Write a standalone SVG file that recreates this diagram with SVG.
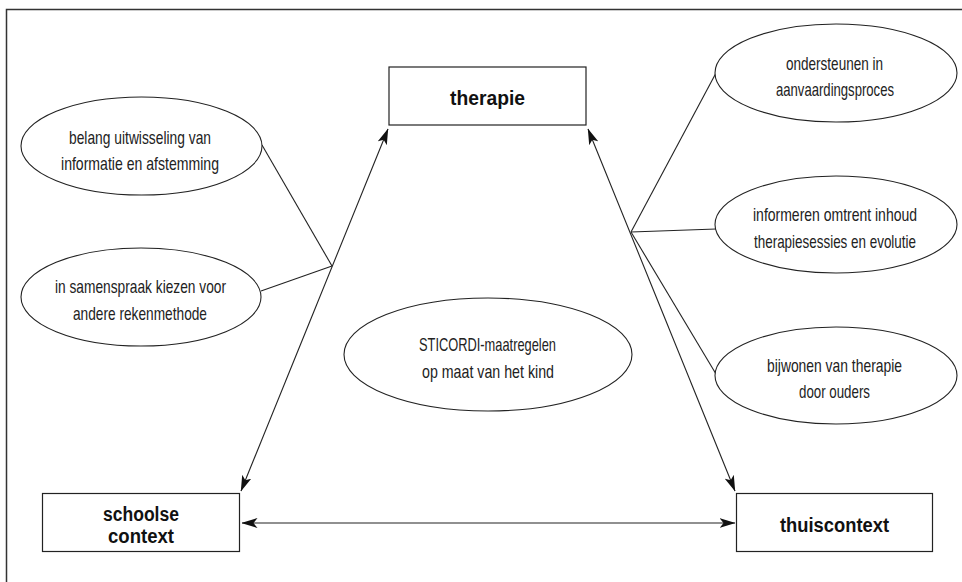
<svg xmlns="http://www.w3.org/2000/svg" width="962" height="582" viewBox="0 0 962 582">
<style>
.frame{fill:none;stroke:#333;stroke-width:1.5}
.box{fill:#fff;stroke:#222;stroke-width:1.2}
.ell{fill:#fff;stroke:#222;stroke-width:1.1}
.lbl{font-family:"Liberation Sans",Arial,sans-serif;font-size:19px;fill:#222;text-anchor:middle}
.bold{font-family:"Liberation Sans",Arial,sans-serif;font-size:19.5px;font-weight:bold;fill:#111;text-anchor:middle}
.ln{stroke:#222;stroke-width:1.1;fill:none}
.arr{marker-start:url(#ah);marker-end:url(#ah)}
</style>
<defs>
<marker id="ah" viewBox="0 0 16 10" refX="15.5" refY="5" markerWidth="16" markerHeight="10" markerUnits="userSpaceOnUse" orient="auto-start-reverse">
<path d="M0,0 L16,5 L0,10 L4,5 Z" fill="#111"/>
</marker>
</defs>
<rect width="962" height="582" fill="#fff"/>
<path class="frame" d="M962,9.5 H6.5 V582"/>

<g id="connectors">
<line class="ln arr" x1="388" y1="129" x2="241" y2="491"/>
<line class="ln arr" x1="588" y1="129" x2="735" y2="491"/>
<line class="ln arr" x1="242" y1="523" x2="735" y2="523"/>
<line class="ln" x1="262" y1="145" x2="332" y2="266"/>
<line class="ln" x1="261" y1="291" x2="332" y2="266"/>
<line class="ln" x1="631" y1="232" x2="716" y2="73"/>
<line class="ln" x1="631" y1="232" x2="716" y2="229"/>
<line class="ln" x1="631" y1="232" x2="716" y2="374"/>
</g>

<g id="therapie">
<rect class="box" x="389" y="67" width="197" height="58"/>
<text class="bold" x="487.5" y="105" textLength="75" lengthAdjust="spacingAndGlyphs">therapie</text>
</g>

<g id="schoolse-context">
<rect class="box" x="42.5" y="493.5" width="197" height="58"/>
<text class="bold" x="141" y="521" textLength="76" lengthAdjust="spacingAndGlyphs">schoolse</text>
<text class="bold" x="141" y="543" textLength="66" lengthAdjust="spacingAndGlyphs">context</text>
</g>

<g id="thuiscontext">
<rect class="box" x="736.5" y="493.5" width="196" height="58"/>
<text class="bold" x="834.5" y="532" textLength="109" lengthAdjust="spacingAndGlyphs">thuiscontext</text>
</g>

<g id="belang">
<ellipse class="ell" cx="141.5" cy="146" rx="120.5" ry="49"/>
<text class="lbl" x="140" y="143.5" textLength="142" lengthAdjust="spacingAndGlyphs">belang uitwisseling van</text>
<text class="lbl" x="140" y="169.5" textLength="158" lengthAdjust="spacingAndGlyphs">informatie en afstemming</text>
</g>

<g id="samenspraak">
<ellipse class="ell" cx="141" cy="297" rx="120" ry="49"/>
<text class="lbl" x="140.5" y="293" textLength="171" lengthAdjust="spacingAndGlyphs">in samenspraak kiezen voor</text>
<text class="lbl" x="140" y="320" textLength="134" lengthAdjust="spacingAndGlyphs">andere rekenmethode</text>
</g>

<g id="sticordi">
<ellipse class="ell" cx="488" cy="354.5" rx="144" ry="56.5"/>
<text class="lbl" x="487.5" y="351" textLength="137" lengthAdjust="spacingAndGlyphs">STICORDI-maatregelen</text>
<text class="lbl" x="488" y="378" textLength="132" lengthAdjust="spacingAndGlyphs">op maat van het kind</text>
</g>

<g id="ondersteunen">
<ellipse class="ell" cx="836" cy="73" rx="121" ry="49"/>
<text class="lbl" x="834.5" y="70" textLength="97" lengthAdjust="spacingAndGlyphs">ondersteunen in</text>
<text class="lbl" x="835" y="96" textLength="118" lengthAdjust="spacingAndGlyphs">aanvaardingsproces</text>
</g>

<g id="informeren">
<ellipse class="ell" cx="836" cy="224.5" rx="121" ry="48.5"/>
<text class="lbl" x="835" y="221" textLength="164" lengthAdjust="spacingAndGlyphs">informeren omtrent inhoud</text>
<text class="lbl" x="835" y="248" textLength="162" lengthAdjust="spacingAndGlyphs">therapiesessies en evolutie</text>
</g>

<g id="bijwonen">
<ellipse class="ell" cx="836" cy="375.5" rx="121" ry="48.5"/>
<text class="lbl" x="834.5" y="372" textLength="135" lengthAdjust="spacingAndGlyphs">bijwonen van therapie</text>
<text class="lbl" x="834.5" y="398" textLength="71" lengthAdjust="spacingAndGlyphs">door ouders</text>
</g>
</svg>
